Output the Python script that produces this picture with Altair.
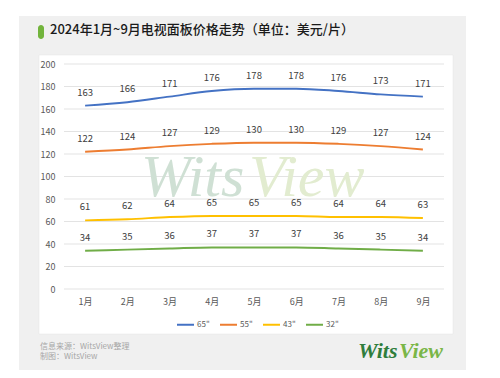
import altair as alt
import pandas as pd

months = ["1月", "2月", "3月", "4月", "5月", "6月", "7月", "8月", "9月"]
series = ['65"', '55"', '43"', '32"']
s65 = [163, 166, 171, 176, 178, 178, 176, 173, 171]
s55 = [122, 124, 127, 129, 130, 130, 129, 127, 124]
s43 = [61, 62, 64, 65, 65, 65, 64, 64, 63]
s32 = [34, 35, 36, 37, 37, 37, 36, 35, 34]
colors = ["#4472C4", "#ED7D31", "#FFC000", "#70AD47"]
y_ticks = [0, 20, 40, 60, 80, 100, 120, 140, 160, 180, 200]

title_text = "2024年1月~9月电视面板价格走势（单位：美元/片）"
source_text = "信息来源：WitsView整理"
maker_text = "制图：WitsView"

rows = []
for name, vals in zip(series, [s65, s55, s43, s32]):
    for m, v in zip(months, vals):
        rows.append({"month": m, "series": name, "value": v})
df = pd.DataFrame(rows)
one = pd.DataFrame({"k": [0]})
grid_df = pd.DataFrame({"value": y_ticks})

FONT = "Noto Sans CJK SC"
W, H = 380, 225

y_scale = alt.Scale(domain=[0, 200], nice=False)
x_scale = alt.Scale(type="point", padding=0.5)
x_axis = alt.Axis(title=None, labelAngle=0, ticks=False, domain=False,
                  grid=False, labelFontSize=9, labelColor="#595959",
                  labelFont=FONT, labelPadding=8, zindex=1)
y_axis = alt.Axis(title=None, values=y_ticks, ticks=False, domain=False,
                  grid=False, labelFontSize=9, labelOverlap=False,
                  labelColor="#595959", labelFont=FONT, labelPadding=9, zindex=1)

x_enc = alt.X("month:N", sort=months, scale=x_scale, axis=x_axis)
y_enc = alt.Y("value:Q", scale=y_scale, axis=y_axis)
color_enc = alt.Color("series:N", sort=series,
                      scale=alt.Scale(domain=series, range=colors),
                      legend=alt.Legend(title=None, orient="none", direction="horizontal",
                                        legendX=112, legendY=251, symbolType="stroke",
                                        symbolStrokeWidth=2, symbolSize=289,
                                        labelFontSize=8, labelColor="#595959",
                                        labelFont=FONT, labelOffset=2, columnPadding=6,
                                        zindex=1))

gray_bg = alt.Chart(one).mark_rect(color="#f0f0f0").encode(
    x=alt.value(-45), x2=alt.value(402), y=alt.value(-48), y2=alt.value(309))
white_bg = alt.Chart(one).mark_rect(color="#ffffff", stroke="#e6e6e6", strokeWidth=0.5).encode(
    x=alt.value(-25), x2=alt.value(389), y=alt.value(-9), y2=alt.value(270))
pill = alt.Chart(one).mark_rect(color="#72B43C", cornerRadius=3).encode(
    x=alt.value(-26), x2=alt.value(-20), y=alt.value(-39), y2=alt.value(-25))
title = alt.Chart(one).mark_text(text=title_text, align="left", baseline="middle",
                                 fontSize=13, font=FONT, fontWeight=500, color="#1a1a1a").encode(
    x=alt.value(-14), y=alt.value(-34))
grid = alt.Chart(grid_df).mark_rule(color="#e3e3e3", strokeWidth=1).encode(y=y_enc)
wm1 = alt.Chart(one).mark_text(text="Wits", align="left", baseline="alphabetic",
                               fontSize=60, font="Liberation Serif", fontStyle="italic",
                               color="#cfe0d4").encode(x=alt.value(77), y=alt.value(132))
wm2 = alt.Chart(one).mark_text(text="View", align="left", baseline="alphabetic",
                               fontSize=60, font="Liberation Serif", fontStyle="italic",
                               color="#e2ecd0").encode(x=alt.value(185), y=alt.value(132))

lines = alt.Chart(df).mark_line(interpolate="monotone", strokeWidth=2).encode(
    x=x_enc, y=y_enc, color=color_enc)
labels = alt.Chart(df).mark_text(dy=-13, fontSize=9.5, font=FONT, color="#404040").encode(
    x=x_enc, y=y_enc, text="value:Q")

src = alt.Chart(one).mark_text(text=source_text, align="left", baseline="middle",
                               fontSize=8, font=FONT, color="#a6a6a6").encode(
    x=alt.value(-24), y=alt.value(283))
mk = alt.Chart(one).mark_text(text=maker_text, align="left", baseline="middle",
                              fontSize=8, font=FONT, color="#a6a6a6").encode(
    x=alt.value(-24), y=alt.value(293))
logo1 = alt.Chart(one).mark_text(text="Wits", align="left", baseline="alphabetic",
                                 fontSize=22, font="Liberation Serif", fontStyle="italic",
                                 fontWeight="bold", color="#2f7d3c").encode(
    x=alt.value(294), y=alt.value(294))
logo2 = alt.Chart(one).mark_text(text="View", align="left", baseline="alphabetic",
                                 fontSize=22, font="Liberation Serif", fontStyle="italic",
                                 fontWeight="bold", color="#7ab648").encode(
    x=alt.value(335), y=alt.value(294))

chart = alt.layer(gray_bg, white_bg, pill, title, grid, wm1, wm2, lines, labels,
                  src, mk, logo1, logo2).properties(
    width=W, height=H,
    autosize=alt.AutoSizeParams(type="none"),
    padding={"left": 56, "top": 56, "right": 48, "bottom": 81},
    background="white",
).configure_view(stroke=None).configure_axis(labelOverlap=False)

chart.save("out.html", embed_options={"renderer": "svg", "actions": False})
